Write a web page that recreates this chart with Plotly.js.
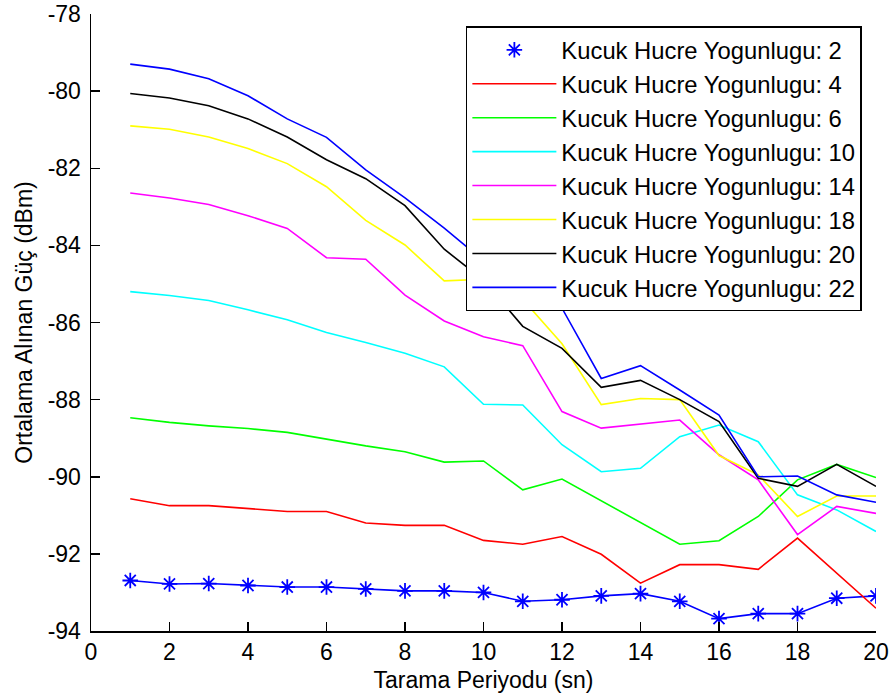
<!DOCTYPE html>
<html>
<head>
<meta charset="utf-8">
<script src="https://cdn.plot.ly/plotly-3.0.1.min.js"></script>
<style>
  html, body { margin: 0; padding: 0; background: #fff; }
  #chart { width: 892px; height: 700px; }
</style>
</head>
<body>
<div id="chart"></div>
<script>
// Tarama periyodu (sn)
const xVals = [1,2,3,4,5,6,7,8,9,10,11,12,13,14,15,16,17,18,19,20];

// Ortalama alınan güç (dBm) per small-cell density
const s2  = [-92.69,-92.78,-92.77,-92.82,-92.86,-92.86,-92.91,-92.96,-92.96,-93.00,-93.23,-93.19,-93.09,-93.03,-93.23,-93.68,-93.55,-93.55,-93.15,-93.09];
const s4  = [-90.57,-90.75,-90.75,-90.83,-90.90,-90.90,-91.20,-91.26,-91.26,-91.65,-91.75,-91.55,-92.01,-92.76,-92.28,-92.28,-92.40,-91.59,-92.50,-93.41];
const s6  = [-88.47,-88.59,-88.68,-88.75,-88.85,-89.02,-89.20,-89.35,-89.62,-89.59,-90.34,-90.06,-90.62,-91.18,-91.75,-91.66,-91.03,-90.08,-89.68,-90.02];
const s10 = [-85.20,-85.30,-85.43,-85.67,-85.93,-86.26,-86.52,-86.80,-87.15,-88.12,-88.14,-89.17,-89.87,-89.78,-88.96,-88.66,-89.09,-90.47,-90.86,-91.42];
const s14 = [-82.64,-82.77,-82.94,-83.23,-83.56,-84.32,-84.36,-85.29,-85.96,-86.37,-86.60,-88.31,-88.74,-88.63,-88.53,-89.43,-90.08,-91.50,-90.77,-90.95];
const s18 = [-80.90,-80.99,-81.19,-81.49,-81.88,-82.48,-83.35,-83.99,-84.92,-84.88,-85.40,-86.55,-88.13,-87.97,-88.00,-89.45,-89.95,-91.03,-90.50,-90.50];
const s20 = [-80.06,-80.18,-80.38,-80.72,-81.19,-81.78,-82.27,-82.97,-84.10,-84.90,-86.10,-86.67,-87.68,-87.50,-88.00,-88.57,-90.04,-90.25,-89.68,-90.25];
const s22 = [-79.30,-79.43,-79.68,-80.12,-80.72,-81.20,-82.04,-82.77,-83.55,-84.40,-85.00,-85.63,-87.45,-87.12,-87.75,-88.40,-90.00,-89.98,-90.47,-90.66];

// Tick values and labels (hyphen-minus as in the reference)
const xTickVals = [0,2,4,6,8,10,12,14,16,18,20];
const xTickText = ["0","2","4","6","8","10","12","14","16","18","20"];
const yTickVals = [-94,-92,-90,-88,-86,-84,-82,-80,-78];
const yTickText = ["-94","-92","-90","-88","-86","-84","-82","-80","-78"];

const names = ["Kucuk Hucre Yogunlugu: 2","Kucuk Hucre Yogunlugu: 4","Kucuk Hucre Yogunlugu: 6",
               "Kucuk Hucre Yogunlugu: 10","Kucuk Hucre Yogunlugu: 14","Kucuk Hucre Yogunlugu: 18",
               "Kucuk Hucre Yogunlugu: 20","Kucuk Hucre Yogunlugu: 22"];
const colors = ["#0000FF","#FF0000","#00FF00","#00FFFF","#FF00FF","#FFFF00","#000000","#0000FF"];
const series = [s2, s4, s6, s10, s14, s18, s20, s22];

const LW = 1.6;
const traces = [];
// connecting line for density 2 (not in legend)
traces.push({x: xVals, y: s2, mode: "lines", line: {color: colors[0], width: LW}, showlegend: false, hoverinfo: "skip"});
// star markers for density 2
traces.push({x: xVals, y: s2, mode: "markers", name: names[0],
  marker: {symbol: "asterisk-open", size: 13, color: colors[0], line: {color: colors[0], width: 1.8}}});
for (let i = 1; i < series.length; i++) {
  traces.push({x: xVals, y: series[i], mode: "lines", name: names[i], line: {color: colors[i], width: LW}});
}

const FONT = "Liberation Sans, Arial, sans-serif";
const layout = {
  width: 892, height: 700,
  margin: {l: 91, r: 16, t: 14, b: 69},
  paper_bgcolor: "#fff", plot_bgcolor: "#fff",
  font: {family: FONT, size: 23, color: "#000"},
  showlegend: true,
  legend: {
    x: 0.982, xanchor: "right", y: 0.98, yanchor: "top",
    bgcolor: "#fff", bordercolor: "#000", borderwidth: 1.5,
    font: {family: FONT, size: 23.8, color: "#000"},
    itemwidth: 84
  },
  xaxis: {
    range: [0, 20], tickmode: "array", tickvals: xTickVals, ticktext: xTickText,
    ticks: "inside", ticklen: 9, tickwidth: 1.5, tickcolor: "#000",
    showline: true, linecolor: "#000", linewidth: 1.5, mirror: false,
    showgrid: false, zeroline: false,
    tickfont: {family: FONT, size: 23, color: "#000"},
    title: {text: "Tarama Periyodu (sn)", font: {family: FONT, size: 23, color: "#000"}, standoff: 8}
  },
  yaxis: {
    range: [-94, -78], tickmode: "array", tickvals: yTickVals, ticktext: yTickText,
    ticks: "inside", ticklen: 9, tickwidth: 1.5, tickcolor: "#000",
    showline: true, linecolor: "#000", linewidth: 1.5, mirror: false,
    showgrid: false, zeroline: false, ticklabelstandoff: 4,
    tickfont: {family: FONT, size: 23, color: "#000"},
    title: {text: "Ortalama Alınan Güç (dBm)", font: {family: FONT, size: 23, color: "#000"}, standoff: 8}
  }
};

Plotly.newPlot("chart", traces, layout, {staticPlot: true});
</script>
</body>
</html>
